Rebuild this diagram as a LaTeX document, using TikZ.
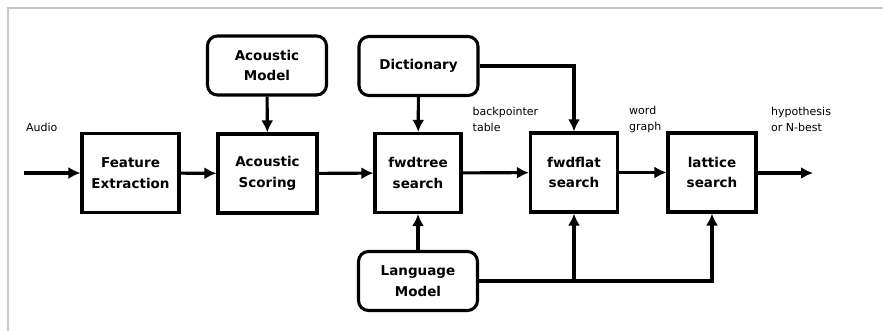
\documentclass[tikz,border=0pt]{standalone}
\usepackage{fontspec}
\setmainfont{DejaVu Sans}
\usetikzlibrary{arrows.meta}
\tikzset{
  blk/.style={draw, line width=3.1pt, align=center, inner sep=0pt,
    font=\bfseries\fontsize{13.5}{20.5}\selectfont},
  sqbox/.style={blk, minimum width=#1, minimum height=79},
  rbox/.style={blk, rounded corners=10pt, minimum width=119, minimum height=59},
  arr/.style={line width=3.1pt, -{Latex[length=12pt,width=12pt]}},
  lbl/.style={anchor=west, align=left, inner sep=0pt,
    font=\fontsize{11}{15.5}\selectfont},
}
\begin{document}
\begin{tikzpicture}[x=1pt,y=-1pt]
\useasboundingbox (0,0) rectangle (883,331);
\draw[black!22, line width=2pt] (8,331) -- (8,8) -- (883,8);

\node[sqbox=97] (fe) at (130.5,173) {Feature\\Extraction};
\node[sqbox=99] (as) at (267.5,173.5) {Acoustic\\Scoring};
\node[sqbox=86] (ft) at (418,173) {fwdtree\\search};
\node[sqbox=87] (ff) at (574,172.5) {fwdflat\\search};
\node[sqbox=88] (la) at (712,172.5) {lattice\\search};
\node[rbox] (am) at (267,65.5) {Acoustic\\Model};
\node[rbox] (di) at (418.5,66) {Dictionary};
\node[rbox] (lm) at (418,281) {Language\\Model};

\coordinate (in) at (24,173);
\coordinate (out) at (813,173);

\node[lbl] (laudio) at (26,127) {Audio};
\node[lbl] (lbp) at (472.5,119.5) {backpointer\\table};
\node[lbl] (lwg) at (629,119.5) {word\\graph};
\node[lbl] (lhy) at (771,119.5) {hypothesis\\or N-best};

\draw[arr] (in) -- (fe.west |- in);
\draw[arr] (fe) -- (as);
\draw[arr] (as) -- (ft);
\draw[arr] (ft) -- (ff);
\draw[arr] (ff) -- (la);
\draw[arr] (la.east |- out) -- (out);
\draw[arr] (am) -- (as);
\draw[arr] (di) -- (ft);
\draw[arr] (lm) -- (ft);
\draw[arr] (di.east) -| (ff.north);
\draw[arr] (lm.east) -| (la.south);
\coordinate (j) at (lm.east -| ff.south);
\draw[arr] (j) -- (ff.south);
\end{tikzpicture}
\end{document}
